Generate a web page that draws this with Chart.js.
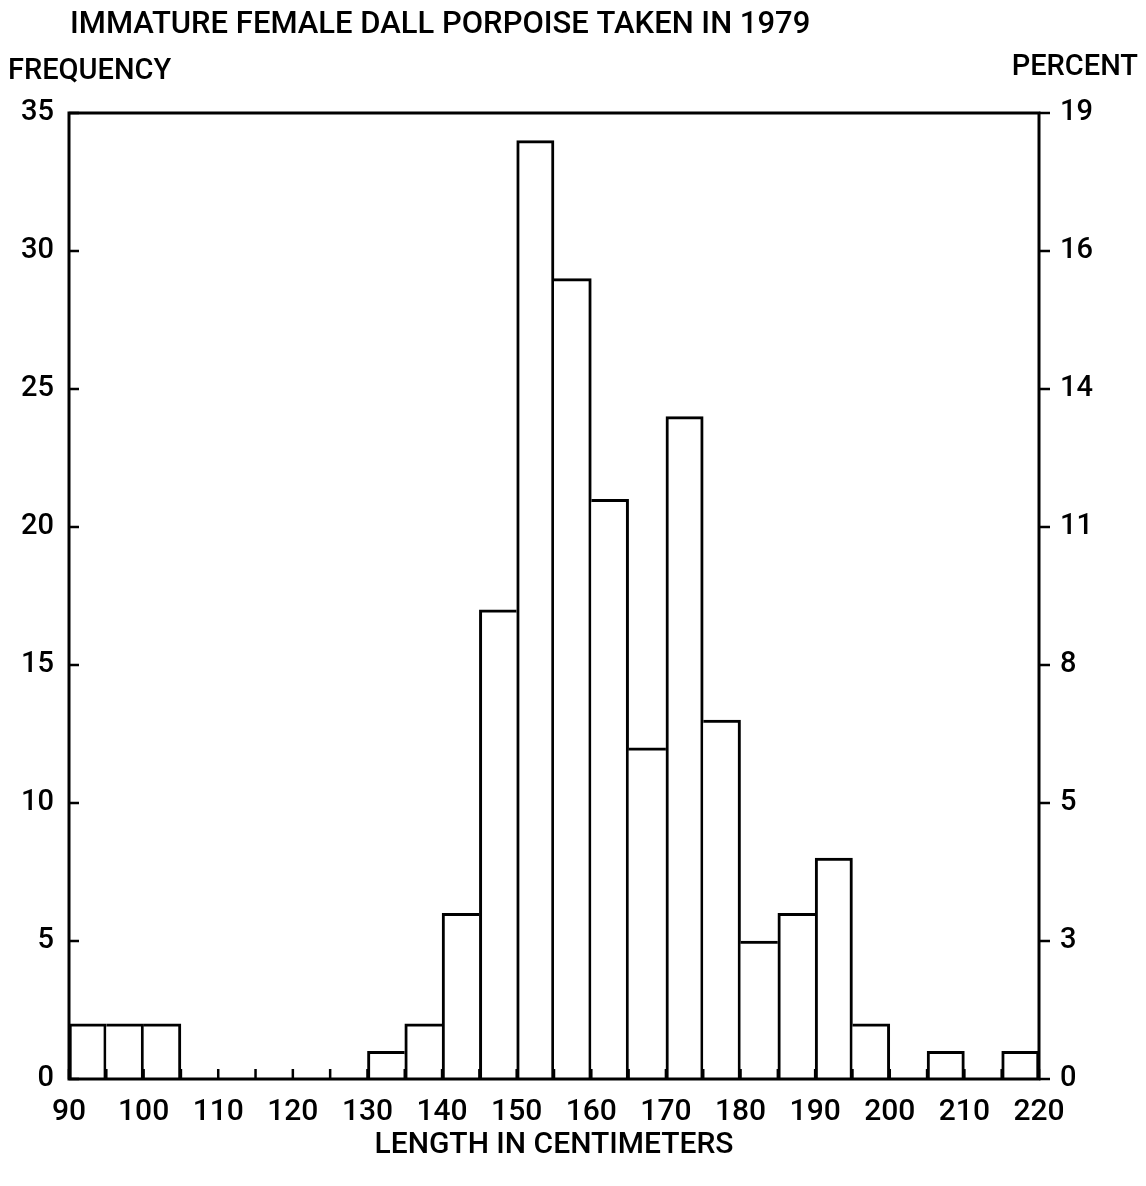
<!DOCTYPE html>
<html lang="en">
<head>
  <meta charset="UTF-8">
  <title>Immature female Dall porpoise taken in 1979</title>
  <script src="https://cdn.jsdelivr.net/npm/chart.js"></script>
  <style>
    body { margin: 0; background: #fff; }
  </style>
</head>
<body>
  <canvas id="lengthChart" width="1146" height="1186"></canvas>

  <script>
    // 5 cm length classes, start of each class
    const binWidth = 5;
    const binStarts = [90, 95, 100, 105, 110, 115, 120, 125, 130, 135, 140, 145, 150,
                       155, 160, 165, 170, 175, 180, 185, 190, 195, 200, 205, 210, 215];
    const frequency = [2, 2, 2, 0, 0, 0, 0, 0, 1, 2, 6, 17, 34,
                       29, 21, 12, 24, 13, 5, 6, 8, 2, 0, 1, 0, 1];

    // left axis (frequency) ticks and the matching percent labels on the right
    const freqTicks = [0, 5, 10, 15, 20, 25, 30, 35];
    const percentLabels = ['0', '3', '5', '8', '11', '14', '16', '19'];

    const titleText = 'IMMATURE FEMALE DALL PORPOISE TAKEN IN 1979';
    const leftLabel = 'FREQUENCY';
    const rightLabel = 'PERCENT';
    const xLabel = 'LENGTH IN CENTIMETERS';

    const FONT = 'Roboto, "DejaVu Sans", sans-serif';

    // bar i draws its side only where it is the taller neighbour, so shared edges stay single
    function sideWidths(ctx) {
      const i = ctx.dataIndex;
      const v = frequency[i];
      const prev = i > 0 ? frequency[i - 1] : 0;
      const next = i < frequency.length - 1 ? frequency[i + 1] : 0;
      return {
        top: 3,
        bottom: 0,
        left: v > prev ? 3 : 0,
        right: v >= next ? 3 : 0
      };
    }

    // frame round the plot and the small inward ticks
    const framePlugin = {
      id: 'frame',
      afterDatasetsDraw(chart) {
        const ctx = chart.ctx;
        const a = chart.chartArea;
        const ys = chart.scales.y;
        const xs = chart.scales.x;
        ctx.save();
        ctx.strokeStyle = '#000';
        ctx.lineWidth = 3;
        ctx.strokeRect(a.left, a.top, a.right - a.left, a.bottom - a.top);
        ctx.lineWidth = 2.5;
        ctx.beginPath();
        freqTicks.forEach(v => {
          const y = ys.getPixelForValue(v);
          ctx.moveTo(a.left, y);
          ctx.lineTo(a.left + 10, y);
          ctx.moveTo(a.right, y);
          ctx.lineTo(a.right + 11, y);
        });
        for (let x = xs.min; x <= xs.max; x += binWidth) {
          const px = xs.getPixelForValue(x);
          ctx.moveTo(px, a.bottom);
          ctx.lineTo(px, a.bottom - 10);
        }
        ctx.stroke();
        ctx.restore();
      },
      afterDraw(chart) {
        const ctx = chart.ctx;
        const a = chart.chartArea;
        ctx.save();
        ctx.fillStyle = '#000';
        ctx.textBaseline = 'middle';
        ctx.font = '500 31px ' + FONT;
        ctx.textAlign = 'left';
        ctx.fillText(titleText, a.left + 1, 25);
        ctx.font = '500 29px ' + FONT;
        ctx.fillText(leftLabel, 8, 72);
        ctx.textAlign = 'right';
        ctx.fillText(rightLabel, chart.width - 8, 68);
        ctx.restore();
      }
    };

    const ctx = document.getElementById('lengthChart').getContext('2d');

    new Chart(ctx, {
      type: 'bar',
      data: {
        datasets: [{
          data: binStarts.map((s, i) => ({ x: s + binWidth / 2, y: frequency[i] })),
          backgroundColor: '#fff',
          borderColor: '#000',
          borderWidth: sideWidths,
          borderSkipped: false,
          barPercentage: 1,
          categoryPercentage: 1
        }]
      },
      options: {
        responsive: false,
        animation: false,
        layout: { padding: { top: 113, left: 0, right: 0, bottom: 0 } },
        plugins: {
          legend: { display: false },
          tooltip: { enabled: false }
        },
        scales: {
          x: {
            type: 'linear',
            min: 90,
            max: 220,
            offset: false,
            grid: { display: false },
            border: { display: false },
            ticks: {
              stepSize: 10,
              autoSkip: false,
              maxRotation: 0,
              padding: 7,
              color: '#000',
              font: { family: FONT, size: 30, weight: '500' }
            },
            title: {
              display: true,
              text: xLabel,
              color: '#000',
              font: { family: FONT, size: 30, weight: '500' },
              padding: { top: 4, bottom: 23 }
            },
            afterFit: s => { s.height = 107; }
          },
          y: {
            position: 'left',
            min: 0,
            max: 35,
            grid: { display: false },
            border: { display: false },
            ticks: {
              stepSize: 5,
              padding: 7,
              color: '#000',
              font: { family: FONT, size: 29, weight: '500' }
            },
            afterFit: s => { s.width = 69; }
          },
          y2: {
            position: 'right',
            min: 0,
            max: 35,
            grid: { display: false },
            border: { display: false },
            ticks: {
              stepSize: 5,
              padding: 13,
              color: '#000',
              font: { family: FONT, size: 29, weight: '500' },
              callback: (value, index) => percentLabels[freqTicks.indexOf(value)]
            },
            afterFit: s => { s.width = 107; }
          }
        }
      },
      plugins: [framePlugin]
    });
  </script>
</body>
</html>
